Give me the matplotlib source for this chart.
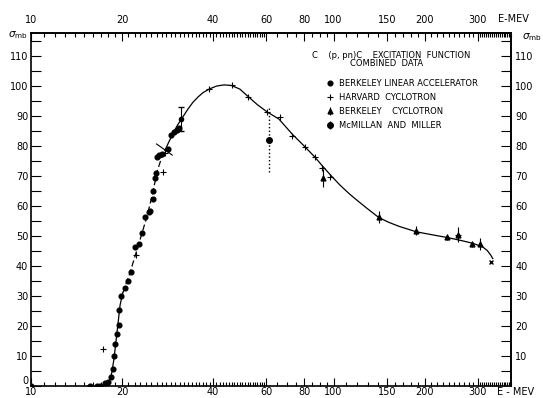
import numpy as np
import matplotlib
matplotlib.use("Agg")
import matplotlib.pyplot as plt
from matplotlib.ticker import FixedLocator, FixedFormatter, NullFormatter

# smooth excitation curve (E in MeV, sigma in mb)
curve_E = [17.0, 17.8, 18.2, 18.5, 18.8, 19.1, 19.4, 19.7, 20.1, 20.6, 21.2, 21.8,
           22.5, 23.2, 24.0, 24.8, 25.5, 26.2, 27.0, 27.7, 28.5, 29.5, 30.5, 31.8,
           33.0, 34.3, 35.6, 37.0, 38.8, 41.0, 43.5, 46.0, 49.0, 52.1, 56.0, 60.3,
           66.0, 73.0, 80.0, 87.0, 92.0, 98.0, 105, 113, 120, 128, 141, 152, 165,
           188, 215, 238, 267, 288, 311, 322, 330, 336]
curve_s = [0.0, 0.5, 2.0, 4.5, 9.0, 15.0, 21.0, 27.0, 31.0, 34.0, 37.5, 41.5,
           46.0, 50.5, 55.5, 61.0, 66.5, 72.0, 76.0, 78.5, 81.2, 84.3, 87.0, 89.8,
           92.3, 94.6, 96.3, 97.8, 99.0, 100.0, 100.4, 100.2, 99.0, 96.6, 93.8, 91.4,
           89.0, 84.0, 80.0, 76.2, 73.3, 70.2, 67.0, 64.0, 61.8, 59.5, 56.2, 54.6, 53.2,
           51.4, 50.3, 49.5, 48.4, 47.6, 46.4, 45.2, 43.8, 42.5]

# Berkeley linear accelerator
bla_E = [10.0, 15.7, 16.5, 16.9, 17.5, 18.0, 18.4, 18.6, 18.8, 19.0, 19.2, 19.5,
         19.6, 19.9, 20.4, 20.9, 21.4, 22.1, 22.7, 23.3, 23.9, 24.5, 24.7, 25.3,
         25.3, 25.6, 25.8, 26.1, 26.5, 27.0, 28.4, 29.1, 29.6, 30.3, 30.9]
bla_s = [0.0, 0.0, 0.0, 0.0, 0.9, 1.4, 3.1, 5.7, 10.0, 13.9, 17.4, 20.3,
         25.2, 30.0, 32.7, 34.9, 38.0, 46.2, 47.2, 50.9, 56.4, 58.0, 58.4, 62.2,
         65.1, 69.3, 70.9, 76.4, 77.0, 77.3, 78.9, 83.7, 84.8, 85.3, 85.9]

# Harvard cyclotron
harv_E = [17.3, 22.2, 27.3, 27.7, 38.8, 46.0, 52.1, 60.3, 66.3, 73.0, 80.2,
          86.7, 91.8, 97.6, 257]
harv_s = [12.4, 43.8, 71.3, 77.8, 98.9, 100.3, 96.4, 91.4, 89.6, 83.4, 79.6,
          76.2, 72.6, 69.8, 50.5]

# Berkeley cyclotron
bcyc_E = [92, 141, 188, 238, 257, 286, 304]
bcyc_s = [69.5, 56.4, 51.8, 49.6, 50.5, 47.3, 47.2]
bcyc_err = [3.0, 2.0, 1.5, 1.0, 2.5, 1.0, 2.0]
bar_E = [31.4]
bar_s = [88.9]
bar_err = [4.0]
slash_E = [26.0, 29.3]
slash_s = [80.7, 77.0]
last_E = [331]
last_s = [41.4]

# McMillan and Miller
mm_E = [61.0]
mm_s = [82.0]
mm_err = [10.6]

e_ticks = [10, 20, 40, 60, 80, 100, 150, 200, 300]
e_labels = ["10", "20", "40", "60", "80", "100", "150", "200", "300"]

fig = plt.figure(figsize=(5.43, 3.98), dpi=100)
ax = fig.add_axes([31 / 543, 12 / 398, 480 / 543, 353 / 398])

E = np.array(curve_E)
s = np.array(curve_s)
m1 = E <= 20.1
m2 = (E >= 20.1) & (E <= 27.7)
m3 = E >= 27.7
ax.plot(E[m1], s[m1], color="black", lw=0.9)
ax.plot(E[m2], s[m2], color="black", lw=0.9, ls=(0, (5, 2.5)))
ax.plot(E[m3], s[m3], color="black", lw=0.9)
ax.plot(slash_E, slash_s, color="black", lw=0.8)

ax.plot(bla_E, bla_s, "o", color="black", ms=3.4, label="BERKELEY LINEAR ACCELERATOR")
ax.plot(harv_E, harv_s, "+", color="black", ms=4.5, mew=0.8, label="HARVARD  CYCLOTRON")
ax.errorbar(bcyc_E, bcyc_s, yerr=bcyc_err, fmt="^", color="black", ms=3.5,
            elinewidth=0.8, capsize=0, label="BERKELEY    CYCLOTRON")
ax.errorbar(bar_E, bar_s, yerr=bar_err, fmt="o", color="black", ms=3,
            elinewidth=0.8, capsize=2)
ax.plot(last_E, last_s, "x", color="black", ms=3.5, mew=1.0)
mm = ax.errorbar(mm_E, mm_s, yerr=mm_err, fmt="o", color="black", ms=4,
                 elinewidth=1.0, capsize=0, label="McMILLAN  AND  MILLER")
mm[2][0].set_linestyle(":")

ax.set_xscale("log")
ax.set_xlim(10, 386)
ax.set_ylim(0, 117.7)

minor_E = np.concatenate([np.arange(11, 20), np.arange(21, 60), np.arange(65, 100, 5),
                          np.arange(110, 300, 10), np.arange(305, 386, 5)])
ax.xaxis.set_major_locator(FixedLocator(e_ticks))
ax.xaxis.set_major_formatter(FixedFormatter(e_labels))
ax.xaxis.set_minor_locator(FixedLocator(minor_E))
ax.xaxis.set_minor_formatter(NullFormatter())
ax.tick_params(axis="x", which="both", direction="in", top=True, labeltop=False,
               labelsize=7, width=0.8)
ax.tick_params(axis="x", which="major", length=6, pad=1)
ax.tick_params(axis="x", which="minor", length=3)

# top labels sit further from the frame
top = ax.secondary_xaxis("top")
top.xaxis.set_major_locator(FixedLocator(e_ticks))
top.xaxis.set_major_formatter(FixedFormatter(e_labels))
top.xaxis.set_minor_locator(FixedLocator([]))
top.tick_params(axis="x", which="both", length=0, pad=6, labelsize=7)
top.spines["top"].set_linewidth(1.2)

ax.yaxis.set_major_locator(FixedLocator(np.arange(0, 111, 10)))
ax.yaxis.set_minor_locator(FixedLocator(np.arange(5, 116, 10)))
ax.yaxis.set_minor_formatter(NullFormatter())
ax.tick_params(axis="y", which="both", direction="in", length=7, width=0.8,
               labelsize=7, pad=2)
ax.get_yticklabels()[0].set_va("bottom")

sec = ax.secondary_yaxis("right")
sec.yaxis.set_major_locator(FixedLocator(np.arange(10, 111, 10)))
sec.yaxis.set_minor_locator(FixedLocator(np.arange(5, 116, 10)))
sec.yaxis.set_minor_formatter(NullFormatter())
sec.tick_params(axis="y", which="both", direction="in", length=7, width=0.8,
                labelsize=7, pad=3)
sec.spines["right"].set_linewidth(1.2)

for sp in ax.spines.values():
    sp.set_linewidth(1.2)

fig.text(498 / 543, 1 - 19 / 398, "E-MEV", fontsize=7, va="center")
fig.text(497 / 543, 1 - 392 / 398, "E - MEV", fontsize=7, va="center")
fig.text(8 / 543, 1 - 35 / 398, r"$\sigma_{\rm mb}$", fontsize=7.5, va="center")
fig.text(522 / 543, 1 - 37 / 398, r"$\sigma_{\rm mb}$", fontsize=7.5, va="center")

fig.text(312 / 543, 1 - 55 / 398, "C    (p, pn)C    EXCITATION  FUNCTION", fontsize=6, va="center")
fig.text(350 / 543, 1 - 64 / 398, "COMBINED  DATA", fontsize=6, va="center")
ax.legend(loc="upper left", bbox_to_anchor=(327 / 543, 1 - 79 / 398),
          bbox_transform=fig.transFigure, frameon=False, fontsize=6,
          handlelength=0.8, handletextpad=0.6, labelspacing=0.6, borderpad=0,
          borderaxespad=0)

fig.savefig("out.png", dpi=100)
